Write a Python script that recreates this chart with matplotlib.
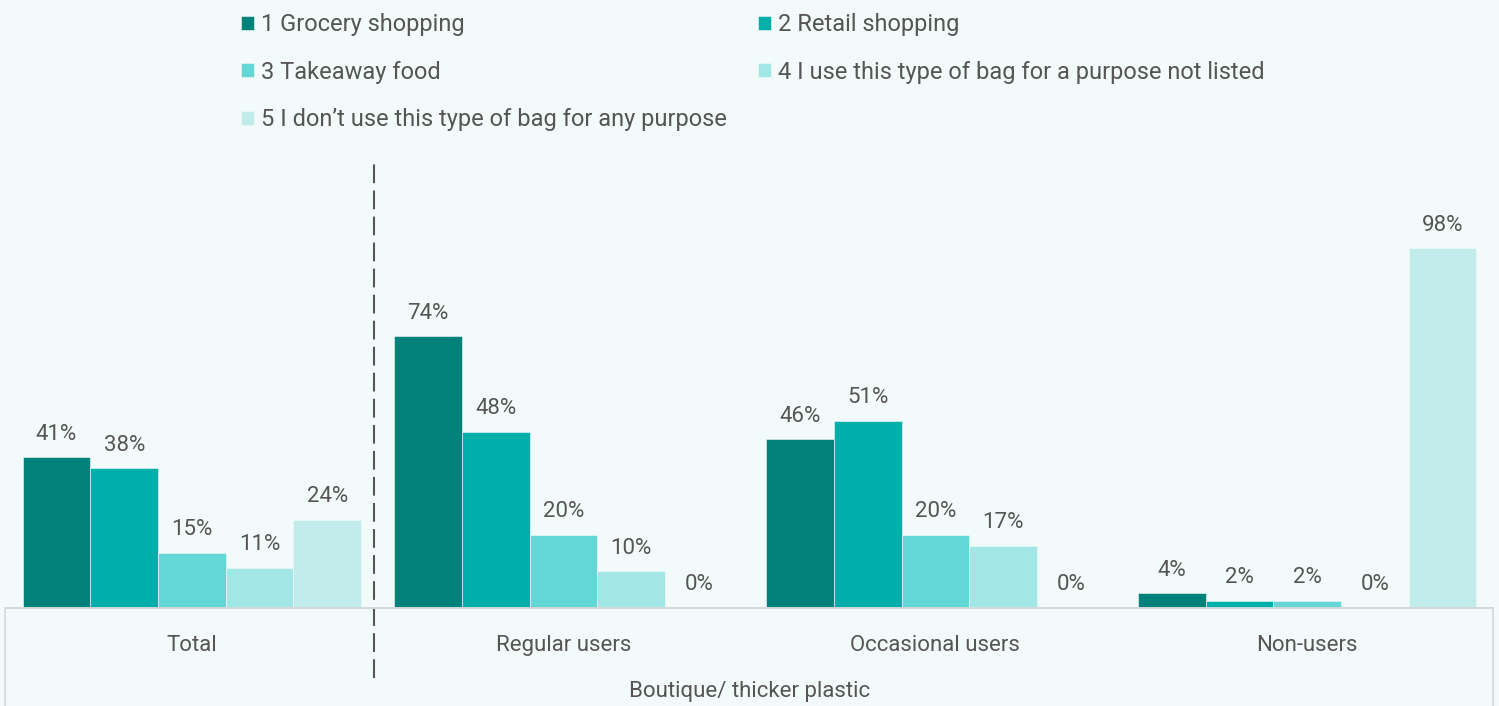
import matplotlib
matplotlib.use("Agg")
import matplotlib.pyplot as plt
import numpy as np
from matplotlib.patches import Rectangle

# Data
groups = ["Total", "Regular users", "Occasional users", "Non-users"]
series = ["1 Grocery shopping", "2 Retail shopping", "3 Takeaway food",
          "4 I use this type of bag for a purpose not listed",
          "5 I don\u2019t use this type of bag for any purpose"]
grocery = [41, 74, 46, 4]
retail = [38, 48, 51, 2]
takeaway = [15, 20, 20, 2]
other_use = [11, 10, 17, 0]
no_use = [24, 0, 0, 98]
values = [grocery, retail, takeaway, other_use, no_use]
axis_title = "Boutique/ thicker plastic"

colors = ["#00817a", "#00afa9", "#62d7d5", "#a2e7e5", "#c1eceb"]
bg = "#f3fbfa"
txt = "#555555"

plt.rcParams["font.family"] = ["Roboto", "DejaVu Sans"]

W, H = 1499, 706
fig = plt.figure(figsize=(W / 100, H / 100), dpi=100, facecolor=bg)
# axes: left 6px, right 1493px, baseline at 608px, top at 150px
ax = fig.add_axes([6 / W, (H - 608) / H, 1487 / W, 458 / H])
ax.set_facecolor(bg)

x = np.arange(len(groups))
bw = 0.182
bars = []
for i, (name, vals) in enumerate(zip(series, values)):
    b = ax.bar(x + (i - 2) * bw, vals, bw, color=colors[i], label=name,
               edgecolor=bg, linewidth=0.4)
    bars.append(b)
    for xi, v in zip(x, vals):
        ax.annotate(f"{v}%", (xi + (i - 2) * bw, v), xytext=(0, 9),
                    textcoords="offset points", ha="center", va="bottom",
                    fontsize=16, color=txt)

ax.set_xlim(-0.5, 3.5)
ax.set_ylim(0, 458 / 3.673)
ax.set_yticks([])
ax.set_xticks(x)
ax.set_xticklabels(groups, fontsize=16, color=txt)
ax.tick_params(axis="x", length=0, pad=19.5)
for s in ["top", "right", "left"]:
    ax.spines[s].set_visible(False)
ax.spines["bottom"].set_color("#d4d8d8")
ax.spines["bottom"].set_linewidth(1.2)

# frame round the category labels
fig.patches.append(Rectangle((5 / W, -0.01), 1488 / W, 98 / H + 0.01,
                             transform=fig.transFigure, facecolor="none",
                             edgecolor="#d4d8d8", linewidth=1.2))

# dashed separator between Total and the user groups
ax.axvline(0.49, ymin=-0.153, ymax=0.978, clip_on=False, color="#555555",
           linewidth=1.5, linestyle=(0, (9, 3.5)))

fig.text(750 / W, 1 - 692 / H, axis_title, ha="center", va="center",
         fontsize=16, color=txt)

# legend in two columns, filled row by row
leg_kw = dict(loc="upper left", frameon=False, fontsize=17,
              handlelength=0.55, handleheight=0.55, handletextpad=0.3,
              labelspacing=1.04, labelcolor=txt, borderpad=0,
              borderaxespad=0)
leg1 = fig.legend([bars[0], bars[2], bars[4]],
                  [series[0], series[2], series[4]],
                  bbox_to_anchor=(241 / W, 1 - 13 / H), **leg_kw)
leg2 = fig.legend([bars[1], bars[3]], [series[1], series[3]],
                  bbox_to_anchor=(758 / W, 1 - 13 / H), **leg_kw)

fig.savefig("out.png", dpi=100, facecolor=bg)
